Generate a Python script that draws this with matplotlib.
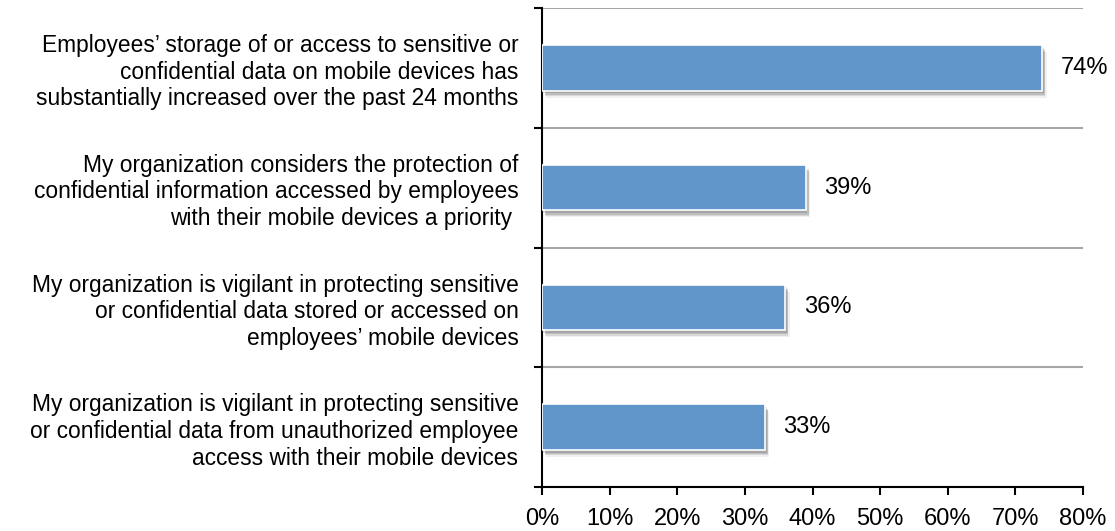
import matplotlib.pyplot as plt
import matplotlib.patheffects as pe
import numpy as np

plt.rcParams['font.family'] = ['Liberation Sans', 'DejaVu Sans']

statements = [
    "Employees\u2019 storage of or access to sensitive or\nconfidential data on mobile devices has\nsubstantially increased over the past 24 months",
    "My organization considers the protection of\nconfidential information accessed by employees\nwith their mobile devices a priority ",
    "My organization is vigilant in protecting sensitive\nor confidential data stored or accessed on\nemployees\u2019 mobile devices",
    "My organization is vigilant in protecting sensitive\nor confidential data from unauthorized employee\naccess with their mobile devices",
]
pct = [74, 39, 36, 33]
xticks = [0, 10, 20, 30, 40, 50, 60, 70, 80]

fig = plt.figure(figsize=(11.15, 5.31), dpi=100)
ax = fig.add_axes([542 / 1115, 44 / 531, 541 / 1115, 479 / 531])

y = np.arange(len(pct))
bars = ax.barh(y, pct, height=0.38, color='#6096c9', edgecolor='white', linewidth=1.2,
               zorder=3)
# soft drop shadow built from a few faint offset copies
shadow = [pe.SimplePatchShadow(offset=(dx, dy), shadow_rgbFace='black', alpha=a)
          for dx, dy, a in [(1, -2, 0.12), (2, -3, 0.12), (2, -4, 0.10), (3, -5, 0.06)]]
for b in bars:
    b.set_path_effects(shadow + [pe.Normal()])

for yi, v in zip(y, pct):
    ax.text(v + 2.7, yi, f"{v}%", va='center', ha='left', fontsize=17)

ax.set_xlim(0, 80)
ax.set_ylim(3.5, -0.5)
ax.set_xticks(xticks)
ax.set_xticklabels([f"{t}%" for t in xticks], fontsize=17)
ax.set_yticks(y)
ax.set_yticklabels(statements, fontsize=16.4, linespacing=1.2)
ax.set_yticks(np.arange(-0.5, 3.6, 1), minor=True)

ax.tick_params(axis='y', which='major', length=0, pad=17)
ax.tick_params(axis='y', which='minor', length=6, width=1.5, direction='out')
ax.tick_params(axis='x', length=6, width=1.5, direction='out', pad=9)
ax.grid(True, axis='y', which='minor', color='#a6a6a6', linewidth=1.5, zorder=0)

for s in ('top', 'right'):
    ax.spines[s].set_visible(False)
ax.spines['left'].set_linewidth(1.5)
ax.spines['bottom'].set_linewidth(1.5)

fig.savefig('out.png', dpi=100)
